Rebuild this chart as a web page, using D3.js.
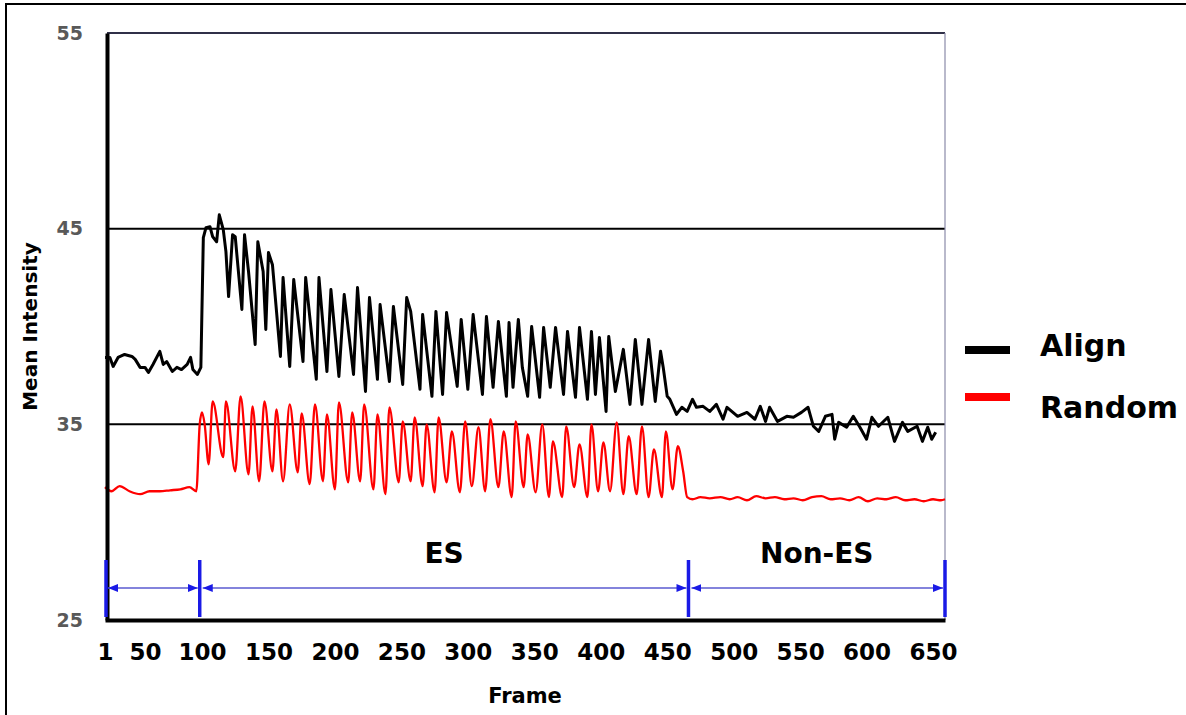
<!DOCTYPE html>
<html>
<head>
<meta charset="utf-8">
<script src="https://cdn.jsdelivr.net/npm/d3@7"></script>
<style>
  body { margin: 0; background: #fff; }
  text { font-family: "DejaVu Sans", sans-serif; font-weight: bold; }
</style>
</head>
<body>
<div id="chart"></div>
<script>
// frame numbers shown under the x axis
const frameTicks = [1, 50, 100, 150, 200, 250, 300, 350, 400, 450, 500, 550, 600, 650];
const intensityTicks = [25, 35, 45, 55];

// Align (black) series
const alignFrame = [1,7,11,17,25,34,38,44,50,53,57,63,66,69,74,78,82,87,90,92,96,99,
  101,103,106,108,111,113,116,118,120,123,125,130,132,135,140,142,146,148,150,153,159,161,
  166,169,176,178,186,188,194,197,203,207,214,217,223,226,232,234,241,244,251,254,257,264,
  266,273,276,281,284,292,295,300,304,311,314,319,323,329,331,334,338,341,345,348,354,357,
  362,366,372,375,381,384,390,393,396,399,404,406,411,417,422,426,431,436,441,445,447,450,
  452,457,461,465,469,472,477,482,487,492,495,503,510,516,520,524,527,533,540,545,551,556,
  560,564,569,574,576,579,585,590,595,600,604,609,616,621,627,631,638,642,646,649,652];
const alignMean = [38.42,38.42,37.96,38.42,38.57,38.47,38.32,37.91,37.91,37.65,38.06,38.73,
  38.06,38.21,37.70,37.91,37.80,38.06,38.42,37.80,37.55,37.91,
  44.54,45.05,45.10,44.59,44.33,45.71,44.95,43.83,41.53,44.69,44.59,40.87,44.69,42.81,39.08,
  44.33,42.81,39.85,43.78,43.16,38.47,42.50,37.96,42.40,38.21,42.50,37.30,42.50,37.70,41.89,
  37.45,41.63,37.55,41.99,36.68,41.48,37.30,41.12,37.19,41.02,37.04,41.48,40.77,36.79,40.61,
  36.43,40.77,36.53,40.71,36.94,40.36,36.79,40.61,36.53,40.51,36.89,40.26,36.43,40.20,36.89,
  40.36,37.91,36.43,40.00,36.38,39.95,36.89,39.95,36.53,39.75,36.38,39.95,36.28,39.75,36.53,
  39.44,35.66,39.49,36.68,38.83,36.02,39.34,36.02,39.34,36.17,38.73,37.91,36.43,36.28,35.51,
  35.87,35.66,36.28,35.87,35.92,35.66,36.02,35.26,35.87,35.41,35.61,35.26,35.92,35.15,35.87,
  35.15,35.41,35.36,35.61,35.87,34.90,34.64,35.41,35.51,34.24,35.10,34.85,35.41,34.85,34.24,
  35.36,34.90,35.36,34.13,35.10,34.64,34.90,34.13,34.85,34.24,34.59];

// Random (red) series
const randomFrame = [1,9,19,31,44,54,63,72,81,89,95,98,100,102,105,108,116,118,125,129,135,
  138,143,147,153,156,161,166,172,175,181,185,191,194,200,203,210,213,219,222,229,232,238,
  241,248,251,257,260,266,269,275,278,284,288,294,298,303,308,313,317,323,327,333,336,342,
  345,351,356,361,364,371,374,380,384,390,393,398,402,407,412,417,421,427,431,436,440,446,
  449,454,458,462,465,469,475,482,490,497,503,510,517,524,531,538,545,552,559,566,573,580,
  587,594,601,608,615,622,629,636,643,650,656,659];
const randomMean = [31.79,31.58,31.84,31.58,31.43,31.58,31.58,31.63,31.68,31.79,31.58,
  35.00,35.61,35.00,32.96,36.17,33.32,36.17,32.60,36.43,32.45,35.92,32.09,36.17,32.60,35.76,
  32.09,36.02,32.55,35.56,31.94,36.02,32.09,35.51,31.68,36.12,32.04,35.61,32.09,36.02,31.68,
  35.51,31.43,35.87,32.04,35.15,32.09,35.36,31.84,35.00,31.53,35.36,32.04,34.64,31.53,35.15,
  31.84,34.85,31.58,35.26,31.79,34.64,31.28,35.15,31.79,34.49,31.53,35.00,31.28,34.13,31.28,
  34.90,31.79,33.98,31.28,35.00,31.58,34.08,31.58,35.10,31.43,34.39,31.43,34.90,31.28,33.72,
  31.28,34.64,31.68,33.88,32.60,31.28,31.17,31.28,31.22,31.28,31.17,31.28,31.12,31.33,31.22,
  31.28,31.17,31.22,31.12,31.28,31.33,31.17,31.22,31.12,31.28,31.07,31.22,31.17,31.28,31.12,
  31.17,31.07,31.17,31.12,31.17];

// phase boundaries (frames) for the blue arrows
const phaseEdges = [1, 98, 466, 659];
const phaseNames = ["", "ES", "Non-ES"];

const margin = { top: 33, right: 241, bottom: 95, left: 107 },
  width = 1186 - margin.left - margin.right,
  height = 715 - margin.top - margin.bottom;

const root = d3.select("#chart")
  .append("svg")
  .attr("width", 1186)
  .attr("height", 715);

// outer frame of the figure
root.append("rect")
  .attr("x", 6).attr("y", 4)
  .attr("width", 1300).attr("height", 800)
  .attr("fill", "none").attr("stroke", "#000").attr("stroke-width", 2);

const svg = root.append("g")
  .attr("transform", `translate(${margin.left},${margin.top})`);

// x axis labels are not evenly spaced below frame 100, so use a polylinear scale
const x = d3.scaleLinear()
  .domain([1, 50, 100, 659])
  .range([-2, 38, 95, width]);

const y = d3.scaleLinear()
  .domain([25, 55])
  .range([height, 0]);

// gridlines
svg.selectAll(".grid")
  .data([35, 45])
  .join("line")
  .attr("x1", 0).attr("x2", width)
  .attr("y1", d => y(d)).attr("y2", d => y(d))
  .attr("stroke", "#000").attr("stroke-width", 2);

// top and right border of plot
svg.append("line")
  .attr("x1", 0).attr("x2", width).attr("y1", y(55)).attr("y2", y(55))
  .attr("stroke", "#303048").attr("stroke-width", 2);
svg.append("line")
  .attr("x1", width).attr("x2", width).attr("y1", 0).attr("y2", height)
  .attr("stroke", "#8a8aa8").attr("stroke-width", 1.2);

const alignData = alignFrame.map((f, i) => [f, alignMean[i]]);
const randomData = randomFrame.map((f, i) => [f, randomMean[i]]);

svg.append("path")
  .datum(randomData)
  .attr("fill", "none")
  .attr("stroke", "#ff0000")
  .attr("stroke-width", 2.3)
  .attr("stroke-linejoin", "round")
  .attr("d", d3.line().x(d => x(d[0])).y(d => y(d[1])).curve(d3.curveMonotoneX));

svg.append("path")
  .datum(alignData)
  .attr("fill", "none")
  .attr("stroke", "#000")
  .attr("stroke-width", 3)
  .attr("stroke-linejoin", "round")
  .attr("d", d3.line().x(d => x(d[0])).y(d => y(d[1])));

// axes
const yAxis = svg.append("g")
  .call(d3.axisLeft(y).tickValues(intensityTicks).tickSize(0).tickPadding(24));
yAxis.select(".domain").attr("stroke", "#000").attr("stroke-width", 4);
yAxis.selectAll("text")
  .attr("fill", "#595959")
  .style("font-size", "19px");

const xAxis = svg.append("g")
  .attr("transform", `translate(0, ${height})`)
  .call(d3.axisBottom(x).tickValues(frameTicks).tickFormat(d3.format("d")).tickSize(0).tickPadding(24));
xAxis.select(".domain").attr("stroke", "#000").attr("stroke-width", 4);
xAxis.selectAll("text")
  .attr("fill", "#000")
  .style("font-size", "23px");

// blue phase arrows
const defs = root.append("defs");
defs.append("marker")
  .attr("id", "arrow")
  .attr("markerUnits", "userSpaceOnUse")
  .attr("markerWidth", 12).attr("markerHeight", 10)
  .attr("refX", 10).attr("refY", 4)
  .attr("orient", "auto-start-reverse")
  .append("path")
  .attr("d", "M0,0 L10,4 L0,8 Z")
  .attr("fill", "#1a1ae6");

const arrowY = height - 32;
svg.selectAll(".phase-edge")
  .data(phaseEdges)
  .join("line")
  .attr("x1", d => x(d) + (d === 1 ? 1 : 0))
  .attr("x2", d => x(d) + (d === 1 ? 1 : 0))
  .attr("y1", height - 60).attr("y2", height - 3)
  .attr("stroke", "#1a1ae6").attr("stroke-width", 3.5);

svg.selectAll(".phase-arrow")
  .data(d3.pairs(phaseEdges))
  .join("line")
  .attr("x1", d => x(d[0]) + 3).attr("x2", d => x(d[1]) - 2)
  .attr("y1", arrowY).attr("y2", arrowY)
  .attr("stroke", "#5a5ad0").attr("stroke-width", 1.5)
  .attr("marker-start", "url(#arrow)")
  .attr("marker-end", "url(#arrow)");

svg.selectAll(".phase-name")
  .data(d3.pairs(phaseEdges).map((d, i) => ({ d, name: phaseNames[i] })).filter(p => p.name))
  .join("text")
  .attr("x", p => (x(p.d[0]) + x(p.d[1])) / 2)
  .attr("y", height - 57)
  .attr("text-anchor", "middle")
  .style("font-size", "28px")
  .text(p => p.name);

// axis titles
svg.append("text")
  .attr("x", (x(1) + width) / 2)
  .attr("y", height + 83)
  .attr("text-anchor", "middle")
  .style("font-size", "21px")
  .text("Frame");

svg.append("text")
  .attr("transform", `translate(${37 - margin.left}, ${height / 2}) rotate(-90)`)
  .attr("text-anchor", "middle")
  .style("font-size", "20px")
  .text("Mean Intensity");

// legend
const legend = root.append("g").attr("transform", "translate(965, 0)");
const legendItems = [{ name: "Align", color: "#000" }, { name: "Random", color: "#ff0000" }];
legendItems.forEach((item, i) => {
  const ly = 350 + i * 47;
  legend.append("line")
    .attr("x1", 0).attr("x2", 45).attr("y1", ly).attr("y2", ly)
    .attr("stroke", item.color).attr("stroke-width", 8);
  legend.append("text")
    .attr("x", 75).attr("y", ly + 6 + i * 15)
    .style("font-size", "30px")
    .text(item.name);
});
</script>
</body>
</html>
